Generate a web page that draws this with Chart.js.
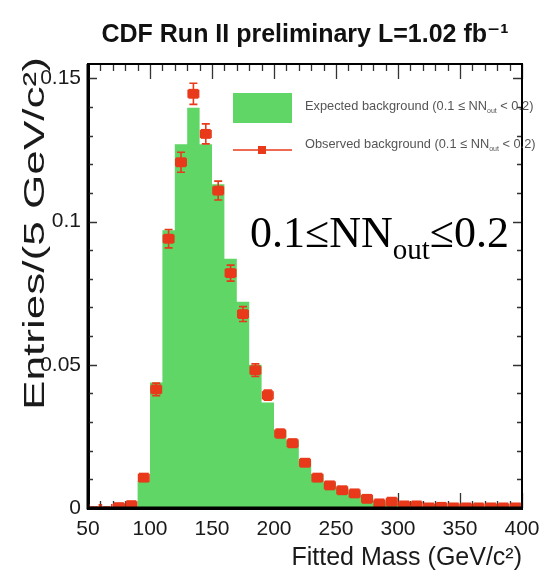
<!DOCTYPE html>
<html>
<head>
<meta charset="utf-8">
<script src="https://cdn.jsdelivr.net/npm/chart.js@4.4.1/dist/chart.umd.min.js"></script>
<style>
html, body { margin: 0; padding: 0; background: #fff; }
</style>
</head>
<body>
<canvas id="myChart" width="542" height="575"></canvas>
<script>
// Expected background: 10 GeV bins, listed by left bin edge
const binEdges = [50, 60, 70, 80, 90, 100, 110, 120, 130, 140, 150, 160, 170, 180, 190, 200,
    210, 220, 230, 240, 250, 260, 270, 280, 290, 300, 310, 320, 330, 340, 350, 360, 370, 380, 390];
const expected = [0.0003, 0.0003, 0.0003, 0.0003, 0.0094, 0.0438, 0.097, 0.127, 0.1397, 0.127, 0.113, 0.087,
    0.072, 0.050, 0.0368, 0.027, 0.0235, 0.0165, 0.0118, 0.0088, 0.0071, 0.0053, 0.0039, 0.0024, 0.0016,
    0.0009, 0.0006, 0.0004, 0.0003, 0.0002, 0.0001, 0.0001, 0.0001, 0.0001, 0.0001];

// Observed background points at bin centres, with their errors
const obsMass = [55, 65, 75, 85, 95, 105, 115, 125, 135, 145, 155, 165, 175, 185, 195, 205, 215, 225,
    235, 245, 255, 265, 275, 285, 295, 305, 315, 325, 335, 345, 355, 365, 375, 385, 395];
const observed = [0, 0, 0.0003, 0.001, 0.0106, 0.0414, 0.094, 0.1207, 0.1446, 0.1306, 0.1108, 0.082,
    0.0677, 0.0481, 0.0394, 0.026, 0.0226, 0.0158, 0.0106, 0.0079, 0.0062, 0.0051, 0.0032, 0.0016, 0.0022,
    0.0009, 0.0009, 0.0002, 0.0004, 0.0002, 0.0002, 0.0002, 0.0002, 0.0002, 0.0002];
const obsErr = [0.0003, 0.0003, 0.0005, 0.0007, 0.0012, 0.0022, 0.0032, 0.0035, 0.0037, 0.0035, 0.0033,
    0.0028, 0.0026, 0.0022, 0.0018, 0.0015, 0.0014, 0.0012, 0.001, 0.0009, 0.0008, 0.0007, 0.0006, 0.0005,
    0.0005, 0.0004, 0.0003, 0.0002, 0.0002, 0.0002, 0.0002, 0.0002, 0.0002, 0.0002, 0.0002];

const binWidth = 10;
const xTicks = [50, 100, 150, 200, 250, 300, 350, 400];
const yTicks = [0, 0.05, 0.1, 0.15];
const xMinor = 10;
const yMinor = 0.01;

const green = '#5fd666';
const red = '#e8391a';
const sans = "'Liberation Sans', Arial, 'DejaVu Sans', sans-serif";
const serif = "'Liberation Serif', 'Times New Roman', serif";

// histogram as a filled step line: each bin keeps its value until the next edge
const histData = binEdges.map((e, i) => ({ x: e, y: expected[i] }));
histData.push({ x: binEdges[binEdges.length - 1] + binWidth, y: expected[expected.length - 1] });
const obsData = obsMass.map((m, i) => ({ x: m, y: observed[i] }));

// inward ticks on all four sides plus the frame
const frameTicks = {
    id: 'frameTicks',
    beforeDatasetsDraw(chart) {
        const { ctx, chartArea: a, scales: { x, y } } = chart;
        ctx.save();
        ctx.strokeStyle = '#333';
        ctx.lineWidth = 1.3;
        ctx.beginPath();
        for (let v = x.min; v <= x.max + 1e-9; v += xMinor) {
            const px = Math.round(x.getPixelForValue(v)) + 0.5;
            const len = xTicks.includes(Math.round(v)) ? 15 : 7;
            ctx.moveTo(px, a.top); ctx.lineTo(px, a.top + len);
            ctx.moveTo(px, a.bottom); ctx.lineTo(px, a.bottom - len);
        }
        for (let v = 0; v <= y.max + 1e-9; v += yMinor) {
            const py = Math.round(y.getPixelForValue(v)) + 0.5;
            const major = yTicks.some(t => Math.abs(t - v) < 1e-6);
            ctx.moveTo(a.left, py); ctx.lineTo(a.left + (major ? 9 : 5), py);
            ctx.moveTo(a.right, py); ctx.lineTo(a.right - (major ? 9 : 5), py);
        }
        ctx.stroke();
        ctx.restore();
    },
    afterDraw(chart) {
        const { ctx, chartArea: a } = chart;
        ctx.save();
        ctx.strokeStyle = '#000';
        ctx.lineWidth = 2;
        ctx.beginPath();
        ctx.moveTo(a.left, a.top); ctx.lineTo(a.right, a.top); ctx.lineTo(a.right, a.bottom);
        ctx.stroke();
        ctx.lineWidth = 3;
        ctx.beginPath();
        ctx.moveTo(a.left, a.top); ctx.lineTo(a.left, a.bottom); ctx.lineTo(a.right, a.bottom);
        ctx.stroke();
        ctx.restore();
    }
};

// error bars under the observed markers
const errorBars = {
    id: 'errorBars',
    beforeDatasetDraw(chart, args) {
        if (args.index !== 1) return;
        const { ctx, chartArea: a, scales: { x, y } } = chart;
        ctx.save();
        ctx.beginPath();
        ctx.rect(a.left, a.top, a.right - a.left, a.bottom - a.top);
        ctx.clip();
        ctx.strokeStyle = red;
        ctx.lineWidth = 1.6;
        ctx.beginPath();
        obsMass.forEach((m, i) => {
            const px = x.getPixelForValue(m);
            const py = y.getPixelForValue(observed[i]);
            const x0 = x.getPixelForValue(m - binWidth / 2) + 1;
            const x1 = x.getPixelForValue(m + binWidth / 2) - 1;
            const y0 = y.getPixelForValue(observed[i] - obsErr[i]);
            const y1 = y.getPixelForValue(observed[i] + obsErr[i]);
            ctx.moveTo(x0, py); ctx.lineTo(x1, py);
            ctx.moveTo(x0, py - 4); ctx.lineTo(x0, py + 4);
            ctx.moveTo(x1, py - 4); ctx.lineTo(x1, py + 4);
            ctx.moveTo(px, y0); ctx.lineTo(px, y1);
            ctx.moveTo(px - 4, y0); ctx.lineTo(px + 4, y0);
            ctx.moveTo(px - 4, y1); ctx.lineTo(px + 4, y1);
        });
        ctx.stroke();
        ctx.restore();
    }
};

// draws text with a subscript part, returns the end x
function subText(ctx, parts, x, y, size, family, subScale, subDrop) {
    parts.forEach(p => {
        const s = p.sub ? size * subScale : size;
        ctx.font = s + 'px ' + family;
        ctx.fillText(p.t, x, p.sub ? y + size * subDrop : y);
        x += ctx.measureText(p.t).width;
    });
    return x;
}

// legend box, the big NN_out label and the long y axis title
const legendAndLabel = {
    id: 'legendAndLabel',
    afterDraw(chart) {
        const { ctx, chartArea: a } = chart;
        ctx.save();
        const lx = a.left + 145, ly = a.top + 29;
        ctx.fillStyle = green;
        ctx.fillRect(lx, ly, 59, 30);
        ctx.strokeStyle = red;
        ctx.lineWidth = 1.5;
        ctx.beginPath();
        ctx.moveTo(lx, ly + 57); ctx.lineTo(lx + 59, ly + 57);
        ctx.stroke();
        ctx.fillStyle = red;
        ctx.fillRect(lx + 25, ly + 53, 8, 8);

        ctx.fillStyle = '#555';
        ctx.textBaseline = 'alphabetic';
        ctx.textAlign = 'left';
        const legendText = (label) => [
            { t: label + ' (0.1 \u2264 NN' }, { t: 'out', sub: true }, { t: ' < 0.2)' }
        ];
        subText(ctx, legendText('Expected background'), lx + 72, ly + 17, 12.8, sans, 0.55, 0.25);
        subText(ctx, legendText('Observed background'), lx + 72, ly + 55, 12.8, sans, 0.55, 0.25);

        ctx.fillStyle = '#000';
        subText(ctx, [{ t: '0.1\u2264NN' }, { t: 'out', sub: true }, { t: '\u22640.2' }],
            a.left + 162, a.top + 183, 44, serif, 0.66, 0.28);

        // y title: stretched along its length like the original figure
        const yTitle = 'Entries/(5 GeV/c\u00b2)';
        ctx.fillStyle = '#1a1a1a';
        ctx.font = '30px ' + sans;
        const w = ctx.measureText(yTitle).width;
        const len = (a.bottom - 98) - (a.top - 7);
        ctx.translate(44, a.bottom - 98);
        ctx.rotate(-Math.PI / 2);
        ctx.scale(len / w, 1);
        ctx.fillText(yTitle, 0, 0);
        ctx.restore();
    }
};

new Chart(document.getElementById('myChart'), {
    type: 'scatter',
    data: {
        datasets: [{
            type: 'line',
            label: 'Expected background',
            data: histData,
            order: 2,
            stepped: 'before',
            fill: 'origin',
            backgroundColor: green,
            borderWidth: 0,
            pointRadius: 0
        }, {
            label: 'Observed background',
            data: obsData,
            order: 1,
            showLine: false,
            pointStyle: 'rect',
            pointRadius: ctx => (ctx.raw && ctx.raw.y > 0 ? 7 : 0),
            backgroundColor: red,
            borderWidth: 0
        }]
    },
    options: {
        responsive: false,
        animation: false,
        devicePixelRatio: 1,
        layout: { padding: { left: 0, right: 20, top: 0, bottom: 0 } },
        scales: {
            x: {
                type: 'linear',
                min: 50,
                max: 400,
                afterBuildTicks: s => { s.ticks = xTicks.map(v => ({ value: v })); },
                afterFit: s => { s.height = 67; s.paddingLeft = 0; s.paddingRight = 0; },
                grid: { display: false, drawTicks: false },
                border: { display: true, color: '#000', width: 3 },
                ticks: { padding: 9, color: '#1a1a1a', font: { family: sans, size: 21 } },
                title: {
                    display: true,
                    text: 'Fitted Mass (GeV/c\u00b2)',
                    align: 'end',
                    color: '#1a1a1a',
                    font: { family: sans, size: 25 },
                    padding: { top: 0, bottom: 2 }
                }
            },
            y: {
                type: 'linear',
                min: 0,
                max: 0.155,
                afterBuildTicks: s => { s.ticks = yTicks.map(v => ({ value: v })); },
                afterFit: s => { s.width = 88; },
                grid: { display: false, drawTicks: false },
                border: { display: true, color: '#000', width: 3 },
                ticks: {
                    padding: 7,
                    color: '#1a1a1a',
                    font: { family: sans, size: 21 },
                    callback: v => String(v)
                },
                title: { display: false }
            }
        },
        plugins: {
            legend: { display: false },
            tooltip: { enabled: false },
            title: {
                display: true,
                fullSize: false,
                text: 'CDF Run II preliminary L=1.02 fb\u207b\u00b9',
                align: 'center',
                color: '#111',
                font: { family: sans, size: 25, weight: 'bold' },
                padding: { top: 20, bottom: 14 }
            }
        }
    },
    plugins: [frameTicks, errorBars, legendAndLabel]
});
</script>
</body>
</html>
